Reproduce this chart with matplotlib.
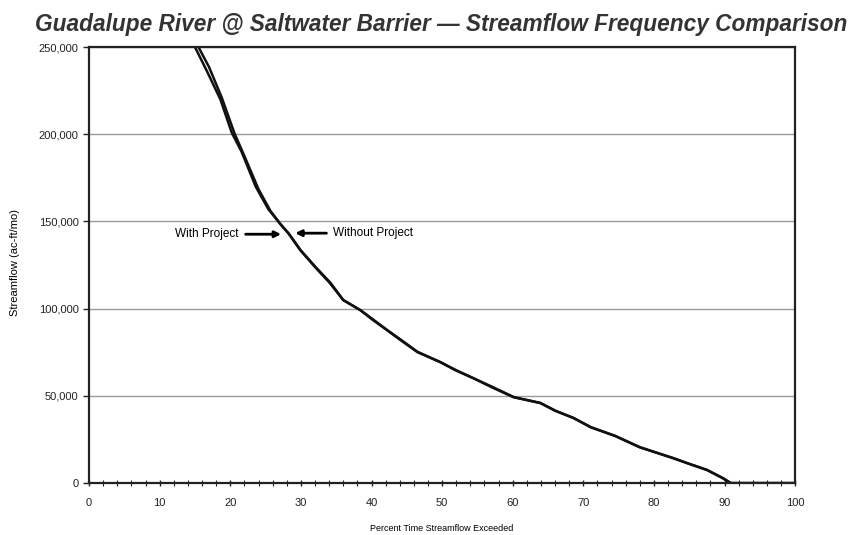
import matplotlib
matplotlib.use('Agg')
import matplotlib.pyplot as plt
from matplotlib.ticker import MultipleLocator, FuncFormatter

plt.rcParams['font.family'] = ['Liberation Sans', 'DejaVu Sans']

# percent of time exceeded vs streamflow (ac-ft/mo)
pct_with = [14.3, 15.0, 16.6, 18.6, 20.2, 21.6, 23.6, 25.4, 27.0, 28.2, 29.9, 32.0,
            34.1, 36.0, 38.4, 40.2, 42.2, 44.1, 46.5, 49.7, 52.0, 54.4, 57.0,
            60.1, 63.9, 66.0, 68.6, 71.0, 74.5, 78.0, 82.7, 85.0, 87.5, 89.7,
            90.8, 100.0]
flow_with = [262000, 250000, 237000, 220000, 201000, 190000, 170000, 157000, 149000,
             143400, 133600, 123900, 114700, 104900, 99200, 93500, 87700, 82000,
             75100, 69400, 64500, 60200, 55000, 49300, 45900, 41500, 37300, 32100,
             27000, 20600, 14300, 11000, 7500, 2900, 0, 0]

pct_without = [14.6, 15.5, 17.0, 18.8, 20.6, 21.9, 24.0, 25.7, 27.2, 28.3, 30.0, 32.1,
               34.2, 36.0, 38.5, 40.3, 42.3, 44.2, 46.5, 49.8, 52.0, 54.5, 57.1,
               60.2, 63.9, 66.1, 68.6, 71.1, 74.5, 78.0, 82.7, 85.1, 87.5, 89.8,
               90.9, 100.0]
flow_without = [262000, 250000, 238500, 221000, 200500, 188500, 168500, 156000, 148000,
                143000, 133400, 123800, 114800, 105000, 99000, 93600, 87500, 82100,
                75300, 69300, 64700, 60000, 55200, 49200, 46000, 41400, 37400, 32000,
                27100, 20500, 14400, 10900, 7600, 2800, 0, 0]

title = 'Guadalupe River @ Saltwater Barrier \u2014 Streamflow Frequency Comparison'

fig = plt.figure(figsize=(8.56, 5.35), dpi=100)
ax = fig.add_axes([0.104, 0.097, 0.825, 0.815])

ax.plot(pct_with, flow_with, color='#111111', lw=1.8, solid_joinstyle='round')
ax.plot(pct_without, flow_without, color='#111111', lw=1.8, solid_joinstyle='round')

ax.set_xlim(0, 100)
ax.set_ylim(0, 250000)
ax.xaxis.set_major_locator(MultipleLocator(10))
ax.xaxis.set_minor_locator(MultipleLocator(2))
ax.yaxis.set_major_locator(MultipleLocator(50000))
ax.yaxis.set_major_formatter(FuncFormatter(lambda v, p: f'{int(v):,}'))
ax.grid(axis='y', color='#9a9a9a', lw=1.0)
ax.set_axisbelow(True)

for s in ax.spines.values():
    s.set_color('#222222')
    s.set_linewidth(1.6)

ax.tick_params(axis='x', which='major', direction='inout', length=5, width=1,
               labelsize=8, pad=8, colors='#222222')
ax.tick_params(axis='x', which='minor', direction='inout', length=4, width=0.8,
               colors='#222222')
ax.tick_params(axis='y', direction='out', length=4, width=1, labelsize=8,
               colors='#222222')

ax.set_xlabel('Percent Time Streamflow Exceeded', fontsize=6.5, labelpad=12)
ax.set_ylabel('Streamflow (ac-ft/mo)', fontsize=8)
ax.yaxis.set_label_coords(-0.098, 0.505)

# arrows pointing at the two curves
ax.annotate('With Project', xy=(27.2, 142700), xytext=(12.2, 142700),
            fontsize=8.5, va='center', ha='left',
            arrowprops=dict(arrowstyle='-|>', color='black', lw=2,
                            mutation_scale=9, shrinkA=3, shrinkB=0,
                            relpos=(1.0, 0.5)))
ax.annotate('Without Project', xy=(29.2, 143300), xytext=(34.6, 143300),
            fontsize=8.5, va='center', ha='left',
            arrowprops=dict(arrowstyle='-|>', color='black', lw=2,
                            mutation_scale=9, shrinkA=3, shrinkB=0,
                            relpos=(0.0, 0.5)))

fig.text(0.041, 0.955, title, fontsize=16.3, fontweight='bold', style='italic',
         color='#333333', va='center', ha='left')

fig.savefig('out.png', dpi=100)
